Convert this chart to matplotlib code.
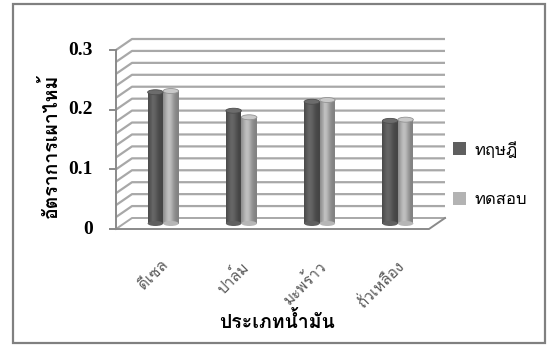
import matplotlib
matplotlib.use("Agg")
import matplotlib.pyplot as plt
from matplotlib import font_manager
from matplotlib.ft2font import FT2Font
from matplotlib.patches import Rectangle, Ellipse, Patch
import numpy as np

# ---- data -------------------------------------------------------------
categories = ["ดีเซล", "ปาล์ม", "มะพร้าว", "ถั่วเหลือง"]
series_names = ["ทฤษฎี", "ทดสอบ"]
theory = [0.220, 0.189, 0.204, 0.172]
experiment = [0.222, 0.178, 0.207, 0.174]
y_ticks = [0, 0.1, 0.2, 0.3]
y_tick_labels = ["0", "0.1", "0.2", "0.3"]
x_title = "ประเภทน้ำมัน"
y_title = "อัตราการเผาไหม้"


# ---- fonts with Thai coverage -------------------------------------------
def thai_families():
    found = []
    for entry in font_manager.fontManager.ttflist:
        try:
            cmap = FT2Font(entry.fname).get_charmap()
        except Exception:
            continue
        if 0x0E01 in cmap and 0x0E49 in cmap and entry.name not in found:
            found.append(entry.name)
    return found


thai = thai_families()
THAI = (thai[:1] or []) + ["DejaVu Sans"]

# ---- figure / back wall axes ------------------------------------------
W, H, DPI = 552, 347, 100
fig = plt.figure(figsize=(W / DPI, H / DPI), dpi=DPI)
fig.patch.set_facecolor("white")


def px_box(x0, y0, x1, y1):
    return [x0 / W, 1 - y1 / H, (x1 - x0) / W, (y1 - y0) / H]


ax = fig.add_axes(px_box(132, 39, 445, 218))
ax.set_xlim(-0.5, len(categories) - 0.5)
ax.set_ylim(0, 0.3)
ax.axis("off")

px_x = 313 / len(categories)      # pixels per category
px_y = 179 / 0.3                  # pixels per unit
dx = 16 / px_x                    # depth offset (front vs back wall)
dy = 11 / px_y
x_lo, x_hi = -0.5, len(categories) - 0.5

grid_c = "#a8a8a8"
axis_c = "#8a8a8a"

# gridlines on back wall + left side wall
for v in np.arange(0.02, 0.3001, 0.02):
    ax.plot([x_lo - dx, x_lo, x_hi], [v - dy, v, v], color=grid_c,
            lw=1.6, clip_on=False, zorder=1, solid_capstyle="butt")
ax.plot([x_lo - dx, x_lo, x_hi], [-dy, 0, 0], color=grid_c, lw=1.4,
        clip_on=False, zorder=1)

# floor and front value axis
tick_len = 6 / px_x
ax.plot([x_lo - dx - tick_len, x_hi - dx, x_hi], [-dy, -dy, 0],
        color=axis_c, lw=1.4, clip_on=False, zorder=2)
ax.plot([x_lo - dx, x_lo - dx], [-dy, 0.3 - dy], color=axis_c, lw=1.4,
        clip_on=False, zorder=2)
for t, lab in zip(y_ticks, y_tick_labels):
    ax.plot([x_lo - dx - tick_len, x_lo - dx], [t - dy, t - dy],
            color=axis_c, lw=1.4, clip_on=False, zorder=2)
    ax.text(x_lo - dx - tick_len - 17 / px_x, t - dy, lab, ha="right",
            va="center", fontsize=14, family="Liberation Serif",
            weight="bold", color="black")

# ---- cylinders ----------------------------------------------------------
bar_w = 15.5 / px_x
n_slices = 16
cap_h = 5 / px_y
x = np.arange(len(categories))
centers = x - dx / 2


def shade(base, f):
    p = 0.74 + 0.36 * np.exp(-((f - 0.38) / 0.3) ** 2)
    g = min(1.0, base * p)
    return (g, g, g)


for vals, base, offset, cap_c in [
    (theory, 0.36, -0.5, "#6c6c6c"),
    (experiment, 0.68, 0.5, "#c9c9c9"),
]:
    left = centers + offset * bar_w - bar_w / 2
    for k in range(n_slices):
        f = (k + 0.5) / n_slices
        ax.bar(left + k * bar_w / n_slices, vals, width=bar_w / n_slices * 1.05,
               bottom=-dy / 2, align="edge", color=shade(base, f),
               linewidth=0, zorder=3, clip_on=False)
    for xl, v in zip(left, vals):
        ax.add_patch(Ellipse((xl + bar_w / 2, v - dy / 2), bar_w, cap_h,
                             facecolor=cap_c, edgecolor=shade(base, 0.05),
                             lw=0.6, zorder=4, clip_on=False))
        ax.add_patch(Ellipse((xl + bar_w / 2, -dy / 2), bar_w, cap_h,
                             facecolor=shade(base, 0.5), lw=0, zorder=3,
                             clip_on=False))

# ---- category labels -----------------------------------------------------
for xc, cat in zip(centers, categories):
    ax.text(xc - 2 / px_x, -40 / px_y, cat, rotation=45, ha="right",
            va="top", rotation_mode="anchor", color="#595959",
            fontsize=11, family=THAI, clip_on=False)

# ---- titles ----------------------------------------------------------------
fig.text(277 / W, 1 - 322 / H, x_title, ha="center", va="center",
         fontsize=14, weight="bold", family=THAI)
fig.text(50 / W, 1 - 146 / H, y_title, ha="center", va="center",
         rotation=90, fontsize=14, weight="bold", family=THAI)

# ---- legend ----------------------------------------------------------------
handles = [Patch(facecolor="#5f5f5f"), Patch(facecolor="#b3b3b3")]
fig.legend(handles, series_names, loc="center left",
           bbox_to_anchor=(438 / W, 1 - 175 / H), frameon=False,
           prop={"family": THAI, "size": 12}, handlelength=0.8,
           handleheight=0.8, handletextpad=0.5, labelspacing=2.0)

# ---- outer frame -------------------------------------------------------------
fig.add_artist(Rectangle((13 / W, 1 - 343 / H), 532 / W, 339 / H,
                         transform=fig.transFigure, fill=False,
                         edgecolor="#808080", lw=1.6))

fig.savefig("out.png", dpi=DPI)
